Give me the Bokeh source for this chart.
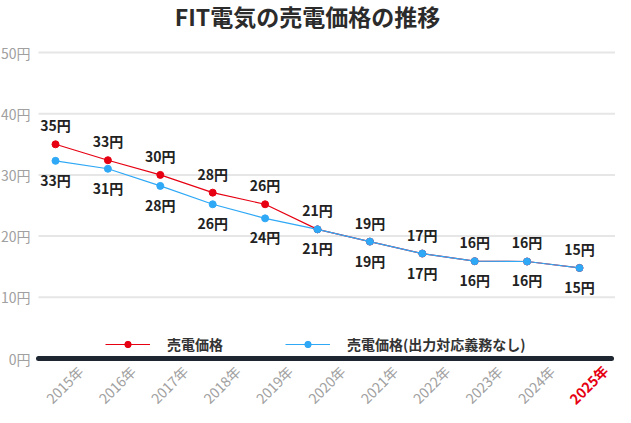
import math
from bokeh.plotting import figure
from bokeh.models import (Range1d, ColumnDataSource, LabelSet,
                          Legend, LegendItem)
from bokeh.core.properties import value
from bokeh.embed import file_html
from bokeh.resources import INLINE

# ---- data ----
years = ["2015年", "2016年", "2017年", "2018年", "2019年", "2020年",
         "2021年", "2022年", "2023年", "2024年", "2025年"]
price = [35.0, 32.4, 30.0, 27.1, 25.2, 21.1, 19.1, 17.15, 15.9, 15.85, 14.8]
price_labels = ["35円", "33円", "30円", "28円", "26円", "21円",
                "19円", "17円", "16円", "16円", "15円"]
price_nodemand = [32.3, 31.0, 28.2, 25.2, 22.9, 21.1, 19.1, 17.15, 15.9, 15.85, 14.8]
price_nodemand_labels = ["33円", "31円", "28円", "26円", "24円", "21円",
                         "19円", "17円", "16円", "16円", "15円"]
y_ticks = [0, 10, 20, 30, 40, 50]
y_tick_labels = ["0円", "10円", "20円", "30円", "40円", "50円"]
series_names = ["売電価格", "売電価格(出力対応義務なし)"]
title_text = "FIT電気の売電価格の推移"

FONT = "Noto Sans CJK JP"
RED = "#e60012"
BLUE = "#2fa8f6"
GRAY = "#a0a0a0"

W, H = 615, 407
SX, SY = 52.4, 6.12          # px per data unit
X0 = -55 / SX                # x=0 sits 55px from the left edge
X1 = X0 + W / SX
Y1 = 50 + 52 / SY            # y=50 sits 52px from the top
Y0 = Y1 - H / SY

GX0 = X0 + 38 / SX           # where grid lines start
YLAB_X = X0 + 30 / SX        # right edge of y labels

xs = list(range(len(years)))

p = figure(width=W, height=H, output_backend="svg", toolbar_location=None,
           title=None, x_range=Range1d(X0, X1), y_range=Range1d(Y0, Y1),
           min_border=0, min_border_left=0, min_border_right=0,
           min_border_top=0, min_border_bottom=0)
p.axis.visible = False
p.grid.visible = False
p.outline_line_color = None
p.background_fill_color = "white"
p.border_fill_color = "white"

# grid lines and baseline
grid_y = y_ticks[1:]
p.segment(x0=[GX0] * len(grid_y), y0=grid_y, x1=[X1] * len(grid_y), y1=grid_y,
          line_color="#e6e6e6", line_width=2)
p.segment(x0=[GX0], y0=[y_ticks[0]], x1=[X1 - 4 / SX], y1=[y_ticks[0]],
          line_color="#1e2731", line_width=5, line_cap="round")

src_r = ColumnDataSource(dict(x=xs, y=price, t=price_labels))
src_b = ColumnDataSource(dict(x=xs, y=price_nodemand, t=price_nodemand_labels))

lr = p.line("x", "y", source=src_r, line_color=RED, line_width=1.2)
sr = p.scatter("x", "y", source=src_r, size=7, fill_color=RED, line_color=RED)
lb = p.line("x", "y", source=src_b, line_color=BLUE, line_width=1.2)
sb = p.scatter("x", "y", source=src_b, size=7, fill_color=BLUE, line_color=BLUE)

for src, off in ((src_r, 19), (src_b, -19)):
    p.add_layout(LabelSet(x="x", y="y", text="t", source=src, y_offset=off,
                          text_align="center", text_baseline="middle",
                          text_font=value(FONT), text_font_size=value("14px"),
                          text_font_style=value("bold"),
                          text_color=value("#222222")))

# y tick labels
src_y = ColumnDataSource(dict(x=[YLAB_X] * len(y_ticks), y=y_ticks, t=y_tick_labels))
p.add_layout(LabelSet(x="x", y="y", text="t", source=src_y,
                      text_align="right", text_baseline="middle",
                      text_font=value(FONT), text_font_size=value("14px"),
                      text_color=value(GRAY)))

# x tick labels (rotated)
colors = [GRAY] * (len(years) - 1) + [RED]
styles = ["normal"] * (len(years) - 1) + ["bold"]
src_x = ColumnDataSource(dict(x=[i + 9 / SX for i in xs], y=[-26 / SY] * len(xs),
                              t=years, c=colors, s=styles))
p.add_layout(LabelSet(x="x", y="y", text="t", source=src_x, angle=math.pi / 4,
                      text_align="center", text_baseline="middle",
                      text_font=value(FONT), text_font_size=value("14px"),
                      text_font_style="s", text_color="c"))

# title
src_t = ColumnDataSource(dict(x=[X0 + 307 / SX], y=[Y1 - 15 / SY], t=[title_text]))
p.add_layout(LabelSet(x="x", y="y", text="t", source=src_t,
                      text_align="center", text_baseline="middle",
                      text_font=value(FONT), text_font_size=value("23px"),
                      text_font_style=value("bold"), text_color=value("#2b2b2b")))

legend = Legend(items=[LegendItem(label=series_names[0], renderers=[lr, sr]),
                       LegendItem(label=series_names[1], renderers=[lb, sb])],
                orientation="horizontal", location=(105, 53),
                glyph_width=45, glyph_height=16, label_standoff=17, spacing=62,
                padding=0, margin=0, border_line_color=None,
                background_fill_alpha=0,
                label_text_font=FONT, label_text_font_size="14px",
                label_text_font_style="bold", label_text_color="#333333")
p.add_layout(legend)

open("out.html", "w").write(file_html(p, INLINE))
